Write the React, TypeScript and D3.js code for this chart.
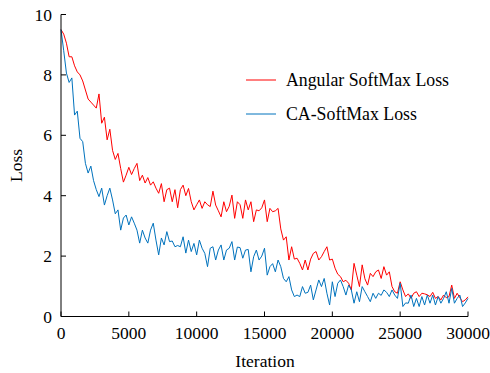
import React from "react";
import * as d3 from "d3";

const STEP = 200;
const angularLoss = [
  9.5, 9.35, 9.05, 8.6, 8.6, 8.3, 8.1, 8.0, 7.8, 7.5,
  7.2, 7.1, 7.0, 6.9, 7.37, 6.4, 6.6, 5.85, 6.2, 5.5,
  5.2, 5.4, 4.9, 4.45, 4.68, 4.94, 4.7, 4.9, 5.07, 4.5,
  4.68, 4.42, 4.6, 4.35, 4.46, 4.25, 4.08, 4.4, 3.8, 4.2,
  4.25, 3.8, 4.2, 3.6, 4.2, 4.35, 4.0, 4.24, 3.8, 3.53,
  3.7, 3.86, 3.58, 3.8, 3.7, 3.64, 4.15, 3.69, 3.5, 3.3,
  3.8, 3.47, 3.65, 4.02, 3.25, 3.8, 3.7, 3.25, 3.86, 3.53,
  3.8, 3.14, 3.53, 3.5, 3.6, 3.86, 3.14, 3.58, 3.47, 3.5,
  3.58, 2.9, 2.53, 2.64, 1.87, 2.31, 1.9, 1.93, 1.76, 1.54,
  1.87, 1.54, 1.9, 2.09, 2.15, 1.87, 1.98, 2.15, 2.31, 1.87,
  1.9, 1.6, 1.4, 1.32, 1.15, 1.2, 1.1, 0.88, 1.76, 1.37,
  0.99, 1.71, 1.25, 1.04, 1.43, 1.32, 1.48, 1.54, 1.26, 1.65,
  1.37, 1.48, 0.99, 0.82, 0.77, 1.15, 0.88, 0.66, 0.75, 0.6,
  0.77, 0.82, 0.66, 0.77, 0.75, 0.72, 0.66, 0.8, 0.6, 0.66,
  0.55, 0.71, 0.62, 0.66, 1.04, 0.6, 0.77, 0.62, 0.49, 0.55,
  0.65,
];
const caLoss = [
  9.5, 8.8, 8.06, 7.75, 7.9, 6.67, 6.8, 5.9, 5.79, 5.07,
  4.75, 4.98, 4.5, 4.2, 3.97, 4.25, 3.69, 4.0, 4.25, 3.86,
  3.4, 3.53, 2.86, 3.26, 3.36, 3.03, 3.3, 3.09, 2.86, 2.43,
  2.86, 2.6, 2.43, 2.86, 3.09, 2.53, 2.04, 2.6, 2.37, 2.81,
  2.48, 2.5, 2.31, 2.35, 2.31, 2.64, 2.1, 2.53, 2.15, 2.42,
  2.04, 2.53, 2.26, 2.09, 1.65, 2.26, 2.31, 1.87, 2.2, 2.37,
  1.87, 2.2, 2.26, 2.48, 1.87, 2.3, 2.28, 1.93, 2.2, 2.22,
  1.48, 1.98, 2.2, 1.87, 2.0, 2.26, 1.37, 1.65, 1.75, 1.48,
  1.87, 1.65, 1.26, 1.15, 1.32, 0.88, 0.66, 0.71, 0.66, 0.99,
  0.77, 0.8, 1.04, 0.55, 0.88, 1.21, 0.99, 1.26, 0.77, 0.38,
  1.15, 0.66, 1.1, 1.21, 0.99, 0.71, 1.04, 0.88, 0.44, 0.82,
  0.49, 0.99, 0.82, 0.66, 0.49, 0.77, 0.6, 0.77, 0.7, 0.88,
  0.8, 0.66, 0.88, 0.71, 0.6, 1.1, 0.33, 0.45, 0.44, 0.71,
  0.33, 0.6, 0.33, 0.66, 0.38, 0.71, 0.44, 0.71, 0.38, 0.66,
  0.44, 0.6, 0.82, 0.44, 0.93, 0.44, 0.6, 0.71, 0.33, 0.45,
  0.6,
];
const xTicks = [0, 5000, 10000, 15000, 20000, 25000, 30000];
const yTicks = [0, 2, 4, 6, 8, 10];
const seriesNames = ["Angular SoftMax Loss", "CA-SoftMax Loss"];
const seriesColors = ["#ff0000", "#0072bd"];

const textStyle: React.CSSProperties = { fontFamily: "Liberation Serif, serif" };

export default function App() {
  const W = 490, H = 373;
  const left = 61, right = 468, top = 14.5, bottom = 316.5;
  const x = d3.scaleLinear().domain([0, 30000]).range([left, right]);
  const y = d3.scaleLinear().domain([0, 10]).range([bottom, top]);
  const line = d3
    .line<number>()
    .x((_, i) => x(i * STEP))
    .y((d) => y(d));
  const series = [angularLoss, caLoss];
  return (
    <svg width={W} height={H} style={{ position: "absolute", left: 0, top: 0, background: "#fff" }}>
      {series.map((s, i) => (
        <path key={i} d={line(s) || ""} fill="none" stroke={seriesColors[i]} strokeWidth={1} />
      ))}
      <line x1={left} x2={left} y1={top} y2={bottom} stroke="#000" strokeWidth={1} />
      <line x1={left} x2={right} y1={bottom} y2={bottom} stroke="#000" strokeWidth={1} />
      {yTicks.map((t) => (
        <g key={"y" + t}>
          <line x1={left} x2={left + 5} y1={y(t)} y2={y(t)} stroke="#000" />
          <text x={left - 9} y={y(t) + 6} textAnchor="end" fontSize={17.5} fill="#000" style={textStyle}>{t}</text>
        </g>
      ))}
      {xTicks.map((t) => (
        <g key={"x" + t}>
          <line x1={x(t)} x2={x(t)} y1={bottom} y2={bottom - 5} stroke="#000" />
          <text x={x(t)} y={bottom + 22} textAnchor="middle" fontSize={17.5} fill="#000" style={textStyle}>{t}</text>
        </g>
      ))}
      <text x={265} y={367} textAnchor="middle" fontSize={17.5} fill="#000" style={textStyle}>Iteration</text>
      <text transform={`translate(22,${(top + bottom) / 2}) rotate(-90)`} textAnchor="middle" fontSize={17.5} fill="#000" style={textStyle}>Loss</text>
      {seriesNames.map((n, i) => (
        <g key={n}>
          <line x1={246} x2={276} y1={80 + i * 34} y2={80 + i * 34} stroke={seriesColors[i]} strokeWidth={1} />
          <text x={286} y={86 + i * 34} fontSize={17.8} fill="#000" style={textStyle}>{n}</text>
        </g>
      ))}
    </svg>
  );
}
